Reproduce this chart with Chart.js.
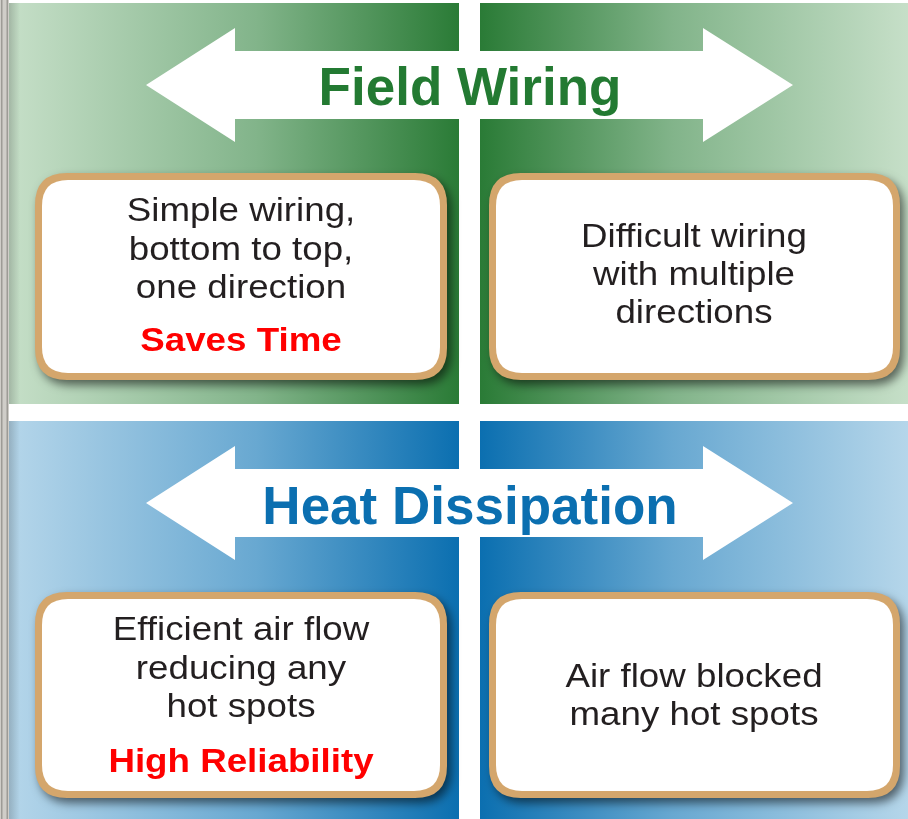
<!DOCTYPE html>
<html lang="en">
<head>
  <meta charset="UTF-8">
  <title>Field Wiring / Heat Dissipation</title>
  <script src="https://cdn.jsdelivr.net/npm/chart.js"></script>
  <style>
    body { margin: 0; background: #fff; }
    .wrap { width: 908px; height: 819px; position: relative; }
  </style>
</head>
<body>
  <div class="wrap"><canvas id="board"></canvas></div>
  <script>
    // row headings and box texts
    const rowTitles = ['Field Wiring', 'Heat Dissipation'];
    const titleColors = ['#237a32', '#0b6fb0'];
    const leftLines = [
      ['Simple wiring,', 'bottom to top,', 'one direction'],
      ['Efficient air flow', 'reducing any', 'hot spots']
    ];
    const leftTags = ['Saves Time', 'High Reliability'];
    const rightLines = [
      ['Difficult wiring', 'with multiple', 'directions'],
      ['Air flow blocked', 'many hot spots']
    ];
    const panelStops = [
      ['#c6dfc8', '#82b48a', '#2a7b36'],
      ['#b5d6ea', '#68a8d1', '#0b6fb0']
    ];

    const FONT = "'Liberation Sans', Arial, sans-serif";

    function roundRect(ctx, x, y, w, h, r) {
      ctx.beginPath();
      ctx.moveTo(x + r, y);
      ctx.lineTo(x + w - r, y);
      ctx.quadraticCurveTo(x + w, y, x + w, y + r);
      ctx.lineTo(x + w, y + h - r);
      ctx.quadraticCurveTo(x + w, y + h, x + w - r, y + h);
      ctx.lineTo(x + r, y + h);
      ctx.quadraticCurveTo(x, y + h, x, y + h - r);
      ctx.lineTo(x, y + r);
      ctx.quadraticCurveTo(x, y, x + r, y);
      ctx.closePath();
    }

    function drawBox(ctx, x0, y0, x1, y1) {
      ctx.save();
      ctx.shadowColor = 'rgba(0,0,0,0.55)';
      ctx.shadowBlur = 10;
      ctx.shadowOffsetX = 4;
      ctx.shadowOffsetY = 5;
      roundRect(ctx, x0, y0, x1 - x0, y1 - y0, 32);
      ctx.fillStyle = '#d4a66c';
      ctx.fill();
      ctx.restore();
      roundRect(ctx, x0 + 7, y0 + 7, x1 - x0 - 14, y1 - y0 - 14, 26);
      ctx.fillStyle = '#ffffff';
      ctx.fill();
    }

    function stretchText(ctx, text, cx, y, font, color) {
      ctx.save();
      ctx.font = font;
      ctx.fillStyle = color;
      ctx.textAlign = 'center';
      ctx.textBaseline = 'alphabetic';
      ctx.translate(cx, y);
      ctx.scale(1.08, 1);
      ctx.fillText(text, 0, 0);
      ctx.restore();
    }

    function arrow(ctx, xL, xR, yc) {
      ctx.beginPath();
      ctx.moveTo(xL, yc);
      ctx.lineTo(xL + 89, yc - 57);
      ctx.lineTo(xL + 89, yc - 34);
      ctx.lineTo(xR - 90, yc - 34);
      ctx.lineTo(xR - 90, yc - 57);
      ctx.lineTo(xR, yc);
      ctx.lineTo(xR - 90, yc + 57);
      ctx.lineTo(xR - 90, yc + 34);
      ctx.lineTo(xL + 89, yc + 34);
      ctx.lineTo(xL + 89, yc + 57);
      ctx.closePath();
      ctx.fillStyle = '#ffffff';
      ctx.fill();
    }

    const boardPlugin = {
      id: 'board',
      beforeDatasetsDraw(chart) {
        const ctx = chart.ctx;
        const sx = chart.scales.x, sy = chart.scales.y;
        const X = v => sx.getPixelForValue(v);
        const Y = v => sy.getPixelForValue(v);

        ctx.save();
        ctx.fillStyle = '#ffffff';
        ctx.fillRect(X(0), Y(0), X(908) - X(0), Y(819) - Y(0));

        // grey strip on the left edge
        ctx.fillStyle = '#cfcdc8';
        ctx.fillRect(X(0), Y(0), X(9) - X(0), Y(819));
        ctx.fillStyle = '#9d9b96';
        ctx.fillRect(X(1), Y(0), 1.5, Y(819));
        ctx.fillRect(X(6.5), Y(0), 1.5, Y(819));

        const rowsY = [[3, 404], [421, 819]];
        rowsY.forEach((r, i) => {
          const stops = panelStops[i];
          // left panel: pale at outer edge, dark at centre
          let g = ctx.createLinearGradient(X(9), 0, X(459), 0);
          g.addColorStop(0, stops[0]);
          g.addColorStop(0.55, stops[1]);
          g.addColorStop(1, stops[2]);
          ctx.fillStyle = g;
          ctx.fillRect(X(9), Y(r[0]), X(459) - X(9), Y(r[1]) - Y(r[0]));
          g = ctx.createLinearGradient(X(480), 0, X(908), 0);
          g.addColorStop(0, stops[2]);
          g.addColorStop(0.45, stops[1]);
          g.addColorStop(1, stops[0]);
          ctx.fillStyle = g;
          ctx.fillRect(X(480), Y(r[0]), X(908) - X(480), Y(r[1]) - Y(r[0]));
          // soft shadow next to grey strip
          const sh = ctx.createLinearGradient(X(9), 0, X(20), 0);
          sh.addColorStop(0, 'rgba(0,0,0,0.18)');
          sh.addColorStop(1, 'rgba(0,0,0,0)');
          ctx.fillStyle = sh;
          ctx.fillRect(X(9), Y(r[0]), X(20) - X(9), Y(r[1]) - Y(r[0]));
        });

        // arrows with titles
        const arrowY = [85, 503];
        const titleBase = [105, 524];
        arrowY.forEach((yc, i) => {
          arrow(ctx, X(146), X(793), Y(yc));
          ctx.font = 'bold 53px ' + FONT;
          ctx.fillStyle = titleColors[i];
          ctx.textAlign = 'center';
          ctx.textBaseline = 'alphabetic';
          ctx.fillText(rowTitles[i], X(470), Y(titleBase[i]));
        });

        // boxes
        const boxY = [[173, 380], [592, 798]];
        boxY.forEach(b => {
          drawBox(ctx, X(35), Y(b[0]), X(447), Y(b[1]));
          drawBox(ctx, X(489), Y(b[0]), X(900), Y(b[1]));
        });

        const body = '34px ' + FONT;
        const bold = 'bold 34px ' + FONT;
        const leftBase = [221, 640];
        const tagBase = [351, 772];
        const rightBase = [247, 687];
        for (let i = 0; i < 2; i++) {
          leftLines[i].forEach((t, k) => {
            stretchText(ctx, t, X(241), Y(leftBase[i] + k * 38.5), body, '#231f20');
          });
          stretchText(ctx, leftTags[i], X(241), Y(tagBase[i]), bold, '#ff0000');
          rightLines[i].forEach((t, k) => {
            stretchText(ctx, t, X(694), Y(rightBase[i] + k * 38), body, '#231f20');
          });
        }
        ctx.restore();
      }
    };

    new Chart(document.getElementById('board').getContext('2d'), {
      type: 'scatter',
      data: { datasets: [{ data: [] }] },
      options: {
        responsive: true,
        maintainAspectRatio: false,
        animation: false,
        layout: { padding: 0 },
        plugins: { legend: { display: false }, tooltip: { enabled: false } },
        scales: {
          x: { type: 'linear', min: 0, max: 908, display: false },
          y: { type: 'linear', min: 0, max: 819, reverse: true, display: false }
        }
      },
      plugins: [boardPlugin]
    });
  </script>
</body>
</html>
